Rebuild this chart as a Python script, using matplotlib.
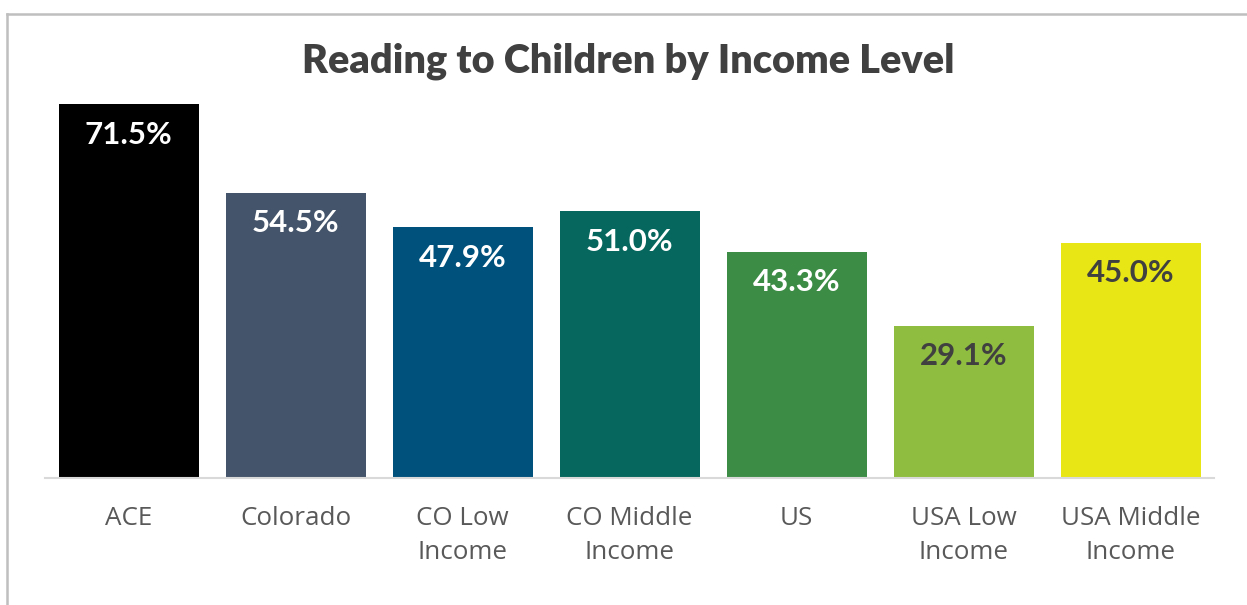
import matplotlib.pyplot as plt
from matplotlib.lines import Line2D

### data
categories = ["ACE", "Colorado", "CO Low\nIncome", "CO Middle\nIncome", "US",
              "USA Low\nIncome", "USA Middle\nIncome"]
values = [71.5, 54.5, 47.9, 51.0, 43.3, 29.1, 45.0]
bar_colors = ["#000000", "#44546A", "#00527D", "#05675D", "#3D8C46",
              "#8FBD40", "#E8E614"]
label_colors = ["white", "white", "white", "white", "white", "#404040", "#404040"]

W, H = 1247, 605
fig = plt.figure(figsize=(W / 100, H / 100), dpi=100)

### axes placed in pixel coordinates
left, right, bottom, top = 45, 1214, 478, 90
ax = fig.add_axes([left / W, 1 - bottom / H, (right - left) / W, (bottom - top) / H])

x = range(len(categories))
ax.bar(x, values, width=140 / 167, color=bar_colors, zorder=2)
ax.set_xlim(-0.5, len(categories) - 0.5)
ax.set_ylim(0, (bottom - top) / ((bottom - 104) / 71.5))

for i, v in enumerate(values):
    ax.annotate(f"{v:.1f}%", xy=(i, v), xytext=(0, -22), textcoords="offset points",
                ha="center", va="center", fontsize=22.5, fontweight="bold",
                family="Lato", color=label_colors[i])

ax.set_xticks(list(x))
ax.set_xticklabels(categories, fontsize=18.7, color="#595959", family="Open Sans",
                   linespacing=1.5)
ax.tick_params(axis="x", length=0, pad=20)
ax.set_yticks([])
for s in ["top", "right", "left"]:
    ax.spines[s].set_visible(False)
ax.spines["bottom"].set_color("#D9D9D9")
ax.spines["bottom"].set_linewidth(1.5)

### title
fig.text(628 / W, 1 - 61 / H, "Reading to Children by Income Level", ha="center",
         va="center", fontsize=28.5, fontweight="heavy", family="Lato", color="#404040")

### chart border (top and left visible)
fig.add_artist(Line2D([7 / W, 7 / W], [0, 1 - 14 / H], transform=fig.transFigure,
                      color="#BFBFBF", lw=1.8))
fig.add_artist(Line2D([7 / W, 1], [1 - 14 / H, 1 - 14 / H], transform=fig.transFigure,
                      color="#BFBFBF", lw=1.8))

plt.savefig("out.png", dpi=100)
plt.close()
